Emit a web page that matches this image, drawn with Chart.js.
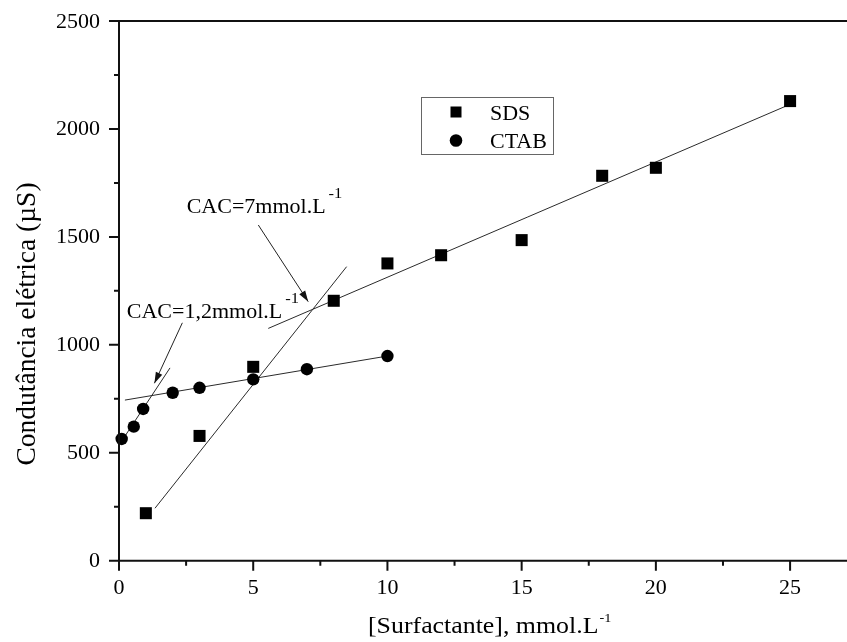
<!DOCTYPE html>
<html>
<head>
<meta charset="utf-8">
<script src="https://cdn.jsdelivr.net/npm/chart.js@4/dist/chart.umd.min.js"></script>
<style>
  html, body { margin: 0; padding: 0; background: #fff; }
  canvas { display: block; }
</style>
</head>
<body>
<canvas id="myChart" width="847" height="642"></canvas>
<script>
// conductivity readings
const sdsX = [1, 3, 5, 8, 10, 12, 15, 18, 20, 25];
const sdsY = [220, 578, 898, 1204, 1377, 1415, 1485, 1783, 1820, 2129];
const ctabX = [0.1, 0.55, 0.9, 2, 3, 5, 7, 10];
const ctabY = [564, 621, 703, 778, 801, 840, 887, 948];

// fitted straight lines (two ends each)
const sdsLowFitX = [1.34, 8.48];
const sdsLowFitY = [243, 1362];
const sdsHighFitX = [5.56, 24.85];
const sdsHighFitY = [1076, 2106];
const ctabLowFitX = [0.1, 1.9];
const ctabLowFitY = [554, 893];
const ctabHighFitX = [0.22, 10];
const ctabHighFitY = [744, 948];

const xTicks = [0, 5, 10, 15, 20, 25];
const yTicks = [0, 500, 1000, 1500, 2000, 2500];

// CAC notes, in data units
const cacLabels = ['CAC=7mmol.L', 'CAC=1,2mmol.L'];
const cacTextX = [2.52, 0.29];
const cacTextY = [1610, 1124];
const cacFromX = [5.19, 2.36];
const cacFromY = [1555, 1102];
const cacToX = [7.05, 1.32];
const cacToY = [1200, 822];

const legendNames = ['SDS', 'CTAB'];

const pts = (xs, ys) => xs.map((v, i) => ({ x: v, y: ys[i] }));

const SX = 1.1; // text looks a bit wide in the original
function put(ctx, s, px, py, size, align) {
  ctx.save();
  ctx.font = size + 'px "Liberation Serif", "Times New Roman", serif';
  ctx.fillStyle = '#000';
  ctx.textBaseline = 'alphabetic';
  ctx.textAlign = align || 'left';
  ctx.translate(px, py);
  ctx.scale(SX, 1);
  ctx.fillText(s, 0, 0);
  const w = ctx.measureText(s).width * SX;
  ctx.restore();
  return w;
}

function arrow(ctx, x1, y1, x2, y2) {
  const ang = Math.atan2(y2 - y1, x2 - x1);
  ctx.beginPath();
  ctx.moveTo(x1, y1);
  ctx.lineTo(x2, y2);
  ctx.stroke();
  ctx.beginPath();
  ctx.moveTo(x2, y2);
  ctx.lineTo(x2 - 11 * Math.cos(ang) + 3.5 * Math.sin(ang), y2 - 11 * Math.sin(ang) - 3.5 * Math.cos(ang));
  ctx.lineTo(x2 - 11 * Math.cos(ang) - 3.5 * Math.sin(ang), y2 - 11 * Math.sin(ang) + 3.5 * Math.cos(ang));
  ctx.closePath();
  ctx.fill();
}

const decor = {
  id: 'decor',
  afterDraw(chart) {
    const { ctx, chartArea: a, scales: { x, y } } = chart;
    ctx.save();
    ctx.strokeStyle = '#111';
    ctx.fillStyle = '#111';
    ctx.lineWidth = 2;
    ctx.beginPath();
    ctx.moveTo(a.right + 2, a.top);
    ctx.lineTo(a.left, a.top);
    ctx.lineTo(a.left, a.bottom);
    ctx.lineTo(a.right + 2, a.bottom);
    ctx.stroke();

    // ticks, minor ones halfway between majors
    ctx.beginPath();
    yTicks.forEach((v, i) => {
      const p = y.getPixelForValue(v);
      ctx.moveTo(a.left, p); ctx.lineTo(a.left - 10, p);
      if (i < yTicks.length - 1) {
        const m = y.getPixelForValue((v + yTicks[i + 1]) / 2);
        ctx.moveTo(a.left, m); ctx.lineTo(a.left - 5, m);
      }
    });
    xTicks.forEach((v, i) => {
      const p = x.getPixelForValue(v);
      ctx.moveTo(p, a.bottom); ctx.lineTo(p, a.bottom + 10);
      const nxt = i < xTicks.length - 1 ? xTicks[i + 1] : v + 5;
      const mv = (v + nxt) / 2;
      if (mv < x.max) {
        const m = x.getPixelForValue(mv);
        ctx.moveTo(m, a.bottom); ctx.lineTo(m, a.bottom + 5);
      }
    });
    ctx.stroke();

    yTicks.forEach(v => put(ctx, String(v), a.left - 19, y.getPixelForValue(v) + 6.5, 20, 'right'));
    xTicks.forEach(v => put(ctx, String(v), x.getPixelForValue(v), a.bottom + 33, 20, 'center'));

    // axis titles
    const w = put(ctx, '[Surfactante], mmol.L', 368, 633, 23.5);
    put(ctx, '-1', 368 + w + 1, 622, 13);
    ctx.save();
    ctx.translate(35, 324);
    ctx.rotate(-Math.PI / 2);
    ctx.font = '27.5px "Liberation Serif", "Times New Roman", serif';
    ctx.fillStyle = '#000';
    ctx.textAlign = 'center';
    ctx.fillText('Condutância elétrica (µS)', 0, 0);
    ctx.restore();

    // CAC notes
    ctx.lineWidth = 1;
    ctx.strokeStyle = '#222';
    ctx.fillStyle = '#111';
    cacLabels.forEach((s, i) => {
      const px = x.getPixelForValue(cacTextX[i]);
      const py = y.getPixelForValue(cacTextY[i]);
      const tw = put(ctx, s, px, py, 20);
      put(ctx, '-1', px + tw + 3, py - 15, 15);
      arrow(ctx, x.getPixelForValue(cacFromX[i]), y.getPixelForValue(cacFromY[i]),
        x.getPixelForValue(cacToX[i]), y.getPixelForValue(cacToY[i]));
    });

    // legend box
    ctx.strokeStyle = '#666';
    ctx.lineWidth = 1;
    ctx.strokeRect(421.5, 97.5, 132, 57);
    ctx.fillStyle = '#000';
    ctx.fillRect(450.5, 106.5, 11, 11);
    ctx.beginPath();
    ctx.arc(456, 140.5, 6.3, 0, Math.PI * 2);
    ctx.fill();
    put(ctx, legendNames[0], 490, 120, 20);
    put(ctx, legendNames[1], 490, 148, 20);
    ctx.restore();
  }
};

const fitStyle = { showLine: true, pointRadius: 0, borderColor: '#2a2a2a', borderWidth: 1, fill: false };

const ctx = document.getElementById('myChart').getContext('2d');
new Chart(ctx, {
  type: 'scatter',
  data: {
    datasets: [
      { label: 'SDS', data: pts(sdsX, sdsY), pointStyle: 'rect', pointRadius: 8.5, borderWidth: 0, backgroundColor: '#000', clip: false },
      { label: 'CTAB', data: pts(ctabX, ctabY), pointStyle: 'circle', pointRadius: 6.2, borderWidth: 0, backgroundColor: '#000', clip: false },
      { ...fitStyle, data: pts(sdsLowFitX, sdsLowFitY) },
      { ...fitStyle, data: pts(sdsHighFitX, sdsHighFitY) },
      { ...fitStyle, data: pts(ctabLowFitX, ctabLowFitY) },
      { ...fitStyle, data: pts(ctabHighFitX, ctabHighFitY) }
    ]
  },
  options: {
    responsive: false,
    animation: false,
    events: [],
    layout: { autoPadding: false, padding: { top: 21, left: 0, right: 0, bottom: 0 } },
    plugins: { legend: { display: false }, tooltip: { enabled: false } },
    scales: {
      x: {
        type: 'linear', min: 0, max: 27.12,
        grid: { display: false, drawTicks: false },
        border: { display: false },
        ticks: { display: false },
        afterFit(s) { s.height = 81.3; }
      },
      y: {
        type: 'linear', min: 0, max: 2500,
        grid: { display: false, drawTicks: false },
        border: { display: false },
        ticks: { display: false },
        afterFit(s) { s.width = 119; }
      }
    }
  },
  plugins: [decor]
});
</script>
</body>
</html>
